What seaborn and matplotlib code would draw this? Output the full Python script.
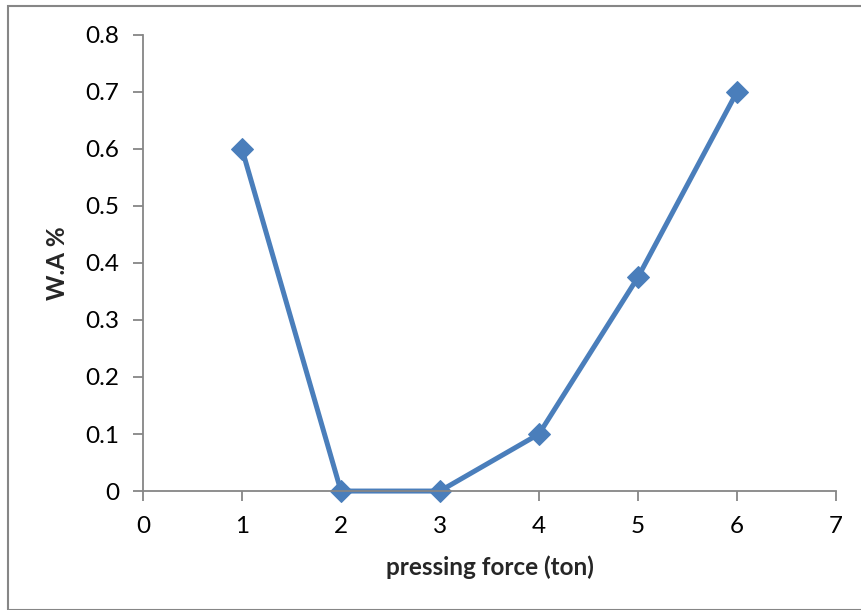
import matplotlib
matplotlib.use("Agg")
import matplotlib.pyplot as plt
import seaborn as sns
import pandas as pd
from matplotlib.patches import Rectangle

# data
force = [1, 2, 3, 4, 5, 6]
wa = [0.6, 0.0, 0.0, 0.1, 0.375, 0.7]
x_ticks = [0, 1, 2, 3, 4, 5, 6, 7]
y_ticks = [0, 0.1, 0.2, 0.3, 0.4, 0.5, 0.6, 0.7, 0.8]

df = pd.DataFrame({"force": force, "wa": wa})

axis_gray = "#868686"
line_blue = "#4a7ebb"

sns.set_style("white", {"xtick.bottom": True, "ytick.left": True,
                        "axes.edgecolor": axis_gray})
plt.rcParams['font.family'] = ['Lato', 'DejaVu Sans']
plt.rcParams['xtick.major.size'] = 7
plt.rcParams['ytick.major.size'] = 7
plt.rcParams['xtick.major.width'] = 1.3
plt.rcParams['ytick.major.width'] = 1.3
plt.rcParams['xtick.color'] = axis_gray
plt.rcParams['ytick.color'] = axis_gray

fig = plt.figure(figsize=(8.61, 6.10), dpi=100)
ax = fig.add_axes([0.166, 0.195, 0.805, 0.748])

sns.lineplot(data=df, x="force", y="wa", ax=ax, color=line_blue, linewidth=3.6,
             marker="D", markersize=11, markeredgecolor=line_blue, clip_on=False)

ax.set_xlim(0, 7)
ax.set_ylim(0, 0.8)
ax.set_xticks(x_ticks)
ax.set_yticks(y_ticks)
ax.set_yticklabels(["0" if v == 0 else f"{v:.1f}" for v in y_ticks])

for s in ["top", "right"]:
    ax.spines[s].set_visible(False)
for s in ["left", "bottom"]:
    ax.spines[s].set_color(axis_gray)
    ax.spines[s].set_linewidth(1.3)

ax.tick_params(axis="both", which="major", direction="out", length=7, width=1.3,
               color=axis_gray, labelsize=17.5, labelcolor="black",
               bottom=True, left=True)
ax.tick_params(axis="x", pad=11)
ax.tick_params(axis="y", pad=10)

ax.set_xlabel("pressing force (ton)", fontsize=17.5, fontweight="bold", labelpad=13)
ax.set_ylabel("W.A %", fontsize=17.5, fontweight="bold", labelpad=12)

# outer chart border
fig.patches.append(Rectangle((8 / 861, 0), 1, 1 - 6 / 610, transform=fig.transFigure,
                             fill=False, edgecolor=axis_gray, linewidth=1.5))

fig.savefig("out.png", dpi=100)
